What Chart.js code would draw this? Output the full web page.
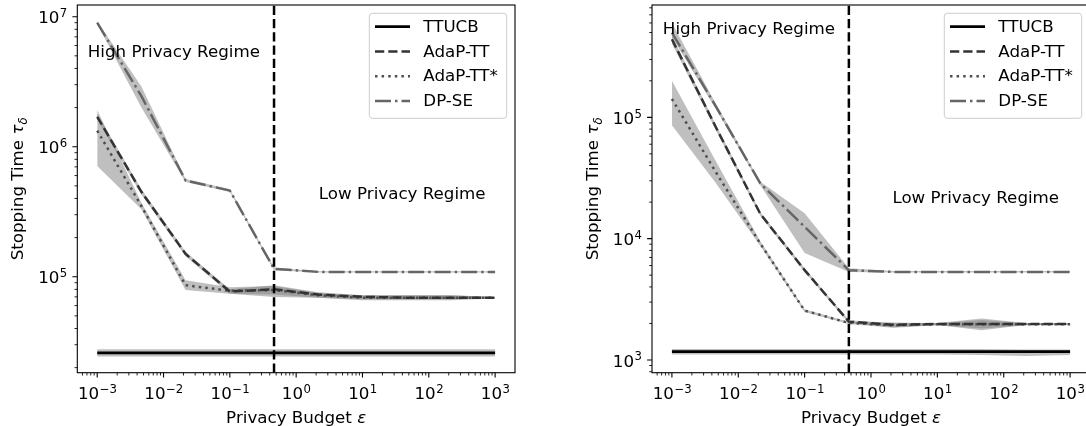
<!DOCTYPE html>
<html><head><meta charset="utf-8">
<script src="https://cdn.jsdelivr.net/npm/chart.js@4.4.1/dist/chart.umd.min.js"></script>
<style>
html,body{margin:0;padding:0;background:#fff;overflow:hidden;}
#wrap{position:relative;width:1086px;height:426px;overflow:hidden;background:#fff;}
canvas{position:absolute;top:0;}
#cA{left:0;}
#cB{left:543px;}
</style></head><body>
<div id="wrap"><canvas id="cA" width="543" height="426"></canvas><canvas id="cB" width="560" height="426"></canvas></div>
<script>
// ---------------- data ----------------
const epsilon = [0.001, 0.00464, 0.0215, 0.1, 0.464, 2.15, 10, 46.4, 215, 1000];
const regimeBoundary = 0.464;
const seriesNames = ['TTUCB', 'AdaP-TT', 'AdaP-TT*', 'DP-SE'];

const xMajorTicks = [1e-3, 1e-2, 1e-1, 1, 10, 100, 1000];
const xTickExponents = ['−3', '−2', '−1', '0', '1', '2', '3'];
const yMajorTicksA = [1e5, 1e6, 1e7];
const yTickExponentsA = ['5', '6', '7'];
const yMajorTicksB = [1e3, 1e4, 1e5];
const yTickExponentsB = ['3', '4', '5'];

// left panel
const ttucbA    = [2.60e4, 2.60e4, 2.60e4, 2.60e4, 2.60e4, 2.60e4, 2.60e4, 2.60e4, 2.60e4, 2.60e4];
const ttucbA_lo = [2.44e4, 2.44e4, 2.44e4, 2.44e4, 2.44e4, 2.44e4, 2.44e4, 2.44e4, 2.44e4, 2.44e4];
const ttucbA_hi = [2.77e4, 2.77e4, 2.77e4, 2.77e4, 2.77e4, 2.77e4, 2.77e4, 2.77e4, 2.77e4, 2.77e4];
const adapA     = [1.70e6, 4.50e5, 1.50e5, 7.70e4, 8.00e4, 7.30e4, 7.00e4, 6.90e4, 6.90e4, 6.90e4];
const adapA_lo  = [1.62e6, 4.30e5, 1.44e5, 7.40e4, 7.30e4, 6.90e4, 6.70e4, 6.70e4, 6.70e4, 6.80e4];
const adapA_hi  = [1.79e6, 4.70e5, 1.56e5, 8.00e4, 8.60e4, 7.60e4, 7.20e4, 7.20e4, 7.20e4, 7.00e4];
const adapStarA    = [1.33e6, 3.50e5, 8.60e4, 7.80e4, 7.90e4, 7.20e4, 6.90e4, 6.90e4, 6.90e4, 6.90e4];
const adapStarA_lo = [7.10e5, 3.30e5, 7.90e4, 7.40e4, 7.00e4, 6.90e4, 6.60e4, 6.60e4, 6.60e4, 6.80e4];
const adapStarA_hi = [1.92e6, 3.70e5, 9.40e4, 8.30e4, 8.50e4, 7.50e4, 7.20e4, 7.20e4, 7.20e4, 7.00e4];
const dpseA     = [9.00e6, 2.45e6, 5.50e5, 4.60e5, 1.15e5, 1.09e5, 1.09e5, 1.09e5, 1.09e5, 1.09e5];
const dpseA_lo  = [8.80e6, 2.00e6, 5.35e5, 4.50e5, 1.12e5, 1.08e5, 1.08e5, 1.08e5, 1.08e5, 1.08e5];
const dpseA_hi  = [9.20e6, 2.90e6, 5.65e5, 4.70e5, 1.18e5, 1.10e5, 1.10e5, 1.10e5, 1.10e5, 1.10e5];

// right panel
const ttucbB    = [1.17e3, 1.17e3, 1.17e3, 1.17e3, 1.17e3, 1.17e3, 1.17e3, 1.17e3, 1.17e3, 1.17e3];
const ttucbB_lo = [1.11e3, 1.11e3, 1.11e3, 1.11e3, 1.11e3, 1.11e3, 1.11e3, 1.10e3, 1.08e3, 1.10e3];
const ttucbB_hi = [1.23e3, 1.23e3, 1.23e3, 1.23e3, 1.23e3, 1.23e3, 1.23e3, 1.23e3, 1.22e3, 1.22e3];
const adapB     = [4.40e5, 8.20e4, 1.60e4, 5.50e3, 2.07e3, 1.95e3, 1.98e3, 1.98e3, 1.98e3, 1.98e3];
const adapB_lo  = [4.05e5, 7.80e4, 1.54e4, 5.30e3, 2.01e3, 1.86e3, 1.94e3, 1.76e3, 1.94e3, 1.95e3];
const adapB_hi  = [4.70e5, 8.60e4, 1.66e4, 5.70e3, 2.13e3, 2.02e3, 2.02e3, 2.20e3, 2.02e3, 2.01e3];
const adapStarB    = [1.42e5, 3.50e4, 9.10e3, 2.55e3, 2.02e3, 1.93e3, 1.97e3, 1.97e3, 1.97e3, 1.97e3];
const adapStarB_lo = [8.60e4, 2.85e4, 8.70e3, 2.48e3, 1.98e3, 1.84e3, 1.93e3, 1.82e3, 1.93e3, 1.95e3];
const adapStarB_hi = [2.00e5, 4.30e4, 9.50e3, 2.62e3, 2.06e3, 2.04e3, 2.01e3, 2.14e3, 2.01e3, 2.00e3];
const dpseB     = [5.00e5, 1.22e5, 2.85e4, 1.25e4, 5.50e3, 5.32e3, 5.32e3, 5.32e3, 5.32e3, 5.32e3];
const dpseB_lo  = [4.60e5, 1.16e5, 2.75e4, 7.60e3, 5.30e3, 5.25e3, 5.25e3, 5.25e3, 5.25e3, 5.25e3];
const dpseB_hi  = [6.00e5, 1.28e5, 2.95e4, 1.62e4, 5.70e3, 5.40e3, 5.40e3, 5.40e3, 5.40e3, 5.40e3];

// ---------------- styles ----------------
const FONT = '"DejaVu Sans", "Noto Sans", sans-serif';
const FS = 16.7;
const FS_SUP = 11.7;
const LW = 2.5;
const styles = {
  'TTUCB':    {color: '#000000', dash: [], width: 2.7},
  'AdaP-TT':  {color: '#333333', dash: [9.25, 4], width: 2.5},
  'AdaP-TT*': {color: '#4f4f4f', dash: [2.5, 4.1], width: 2.5},
  'DP-SE':    {color: '#666666', dash: [16, 4, 2.5, 4], width: 2.5}
};
const bandColor = 'rgba(128,128,128,0.5)';

Chart.defaults.font.family = FONT;
Chart.defaults.font.size = FS;
Chart.defaults.color = '#000';

function pts(vals) { return epsilon.map((x, i) => ({x: x, y: vals[i]})); }

function seriesDatasets(name, vals, lo, hi) {
  const st = styles[name];
  return [
    {label: name + ' lo', data: pts(lo), borderWidth: 0, pointRadius: 0, fill: false, order: 10, borderColor: 'rgba(0,0,0,0)'},
    {label: name + ' hi', data: pts(hi), borderWidth: 0, pointRadius: 0, fill: '-1', backgroundColor: bandColor, order: 10, borderColor: 'rgba(0,0,0,0)'},
    {label: name, data: pts(vals), borderColor: st.color, borderWidth: st.width, borderDash: st.dash, pointRadius: 0, fill: false, order: 2, tension: 0}
  ];
}

// draws "10" with a raised exponent; align: 'center' or 'right'
function drawPow(ctx, exp, x, baseline, align) {
  ctx.font = FS + 'px ' + FONT;
  const wb = ctx.measureText('10').width;
  ctx.font = FS_SUP + 'px ' + FONT;
  const we = ctx.measureText(exp).width;
  const total = wb + we;
  const x0 = align === 'center' ? x - total / 2 : x - total;
  ctx.textAlign = 'left';
  ctx.textBaseline = 'alphabetic';
  ctx.font = FS + 'px ' + FONT;
  ctx.fillText('10', x0, baseline);
  ctx.font = FS_SUP + 'px ' + FONT;
  ctx.fillText(exp, x0 + wb + 0.5, baseline - 6.2);
}

const decorPlugin = {
  id: 'decor',
  afterDraw(chart, args, o) {
    const ctx = chart.ctx, a = chart.chartArea, xs = chart.scales.x, ys = chart.scales.y;
    ctx.save();
    ctx.strokeStyle = '#000';
    // minor ticks
    const minorX = [], minorY = [];
    for (let k = -5; k <= 8; k++) for (let m = 2; m <= 9; m++) {
      const v = m * Math.pow(10, k);
      if (v > xs.min && v < xs.max) minorX.push(v);
      if (v > ys.min && v < ys.max) minorY.push(v);
    }
    ctx.lineWidth = 0.85;
    ctx.beginPath();
    minorX.forEach(v => { const p = xs.getPixelForValue(v); ctx.moveTo(p, a.bottom); ctx.lineTo(p, a.bottom + 2.8); });
    minorY.forEach(v => { const p = ys.getPixelForValue(v); ctx.moveTo(a.left, p); ctx.lineTo(a.left - 2.8, p); });
    ctx.stroke();
    // major ticks
    ctx.lineWidth = 1.1;
    ctx.beginPath();
    o.xMajor.forEach(v => { const p = xs.getPixelForValue(v); ctx.moveTo(p, a.bottom); ctx.lineTo(p, a.bottom + 4.9); });
    o.yMajor.forEach(v => { const p = ys.getPixelForValue(v); ctx.moveTo(a.left, p); ctx.lineTo(a.left - 4.9, p); });
    ctx.stroke();
    // spines
    ctx.strokeRect(a.left, a.top, a.right - a.left, a.bottom - a.top);

    // tick labels
    ctx.fillStyle = '#000';
    o.xMajor.forEach((v, i) => drawPow(ctx, o.xExp[i], xs.getPixelForValue(v), a.bottom + 26.3, 'center'));
    o.yMajor.forEach((v, i) => drawPow(ctx, o.yExp[i], a.left - 10.5, ys.getPixelForValue(v) + 6.6, 'right'));

    // annotations
    ctx.font = FS + 'px ' + FONT;
    ctx.textAlign = 'left';
    ctx.textBaseline = 'alphabetic';
    o.notes.forEach(n => ctx.fillText(n.text, xs.getPixelForValue(n.x), ys.getPixelForValue(n.y)));

    // x title: Privacy Budget ε
    const xt1 = 'Privacy Budget ', xt2 = 'ε';
    ctx.font = FS + 'px ' + FONT; const w1 = ctx.measureText(xt1).width;
    ctx.font = 'italic ' + FS + 'px ' + FONT; const w2 = ctx.measureText(xt2).width;
    const x0 = (a.left + a.right) / 2 - (w1 + w2) / 2;
    const yb = a.bottom + 49.8;
    ctx.font = FS + 'px ' + FONT; ctx.fillText(xt1, x0, yb);
    ctx.font = 'italic ' + FS + 'px ' + FONT; ctx.fillText(xt2, x0 + w1, yb);

    // y title: Stopping Time τ_δ
    ctx.save();
    ctx.translate(a.left - 54, (a.top + a.bottom) / 2);
    ctx.rotate(-Math.PI / 2);
    const yt1 = 'Stopping Time ', yt2 = 'τ', yt3 = 'δ';
    ctx.font = FS + 'px ' + FONT; const u1 = ctx.measureText(yt1).width;
    ctx.font = 'italic ' + FS + 'px ' + FONT; const u2 = ctx.measureText(yt2).width;
    ctx.font = 'italic ' + FS_SUP + 'px ' + FONT; const u3 = ctx.measureText(yt3).width;
    const s0 = -(u1 + u2 + u3) / 2;
    ctx.font = FS + 'px ' + FONT; ctx.fillText(yt1, s0, 0);
    ctx.font = 'italic ' + FS + 'px ' + FONT; ctx.fillText(yt2, s0 + u1, 0);
    ctx.font = 'italic ' + FS_SUP + 'px ' + FONT; ctx.fillText(yt3, s0 + u1 + u2, 3.6);
    ctx.restore();

    // legend
    const lw = 137.4, lh = 105;
    const lx = a.right - 8.3 - lw, ly = a.top + 8.3;
    const r = 3;
    ctx.beginPath();
    ctx.moveTo(lx + r, ly); ctx.lineTo(lx + lw - r, ly); ctx.arcTo(lx + lw, ly, lx + lw, ly + r, r);
    ctx.lineTo(lx + lw, ly + lh - r); ctx.arcTo(lx + lw, ly + lh, lx + lw - r, ly + lh, r);
    ctx.lineTo(lx + r, ly + lh); ctx.arcTo(lx, ly + lh, lx, ly + lh - r, r);
    ctx.lineTo(lx, ly + r); ctx.arcTo(lx, ly, lx + r, ly, r);
    ctx.closePath();
    ctx.fillStyle = 'rgba(255,255,255,0.8)'; ctx.fill();
    ctx.strokeStyle = '#cccccc'; ctx.lineWidth = 1; ctx.stroke();
    seriesNames.forEach((name, i) => {
      const st = styles[name];
      const cy = ly + 13.4 + i * 24.75;
      ctx.beginPath();
      ctx.setLineDash(st.dash);
      ctx.strokeStyle = st.color; ctx.lineWidth = st.width; ctx.lineCap = 'butt';
      ctx.moveTo(lx + 5.7, cy); ctx.lineTo(lx + 40.7, cy); ctx.stroke();
      ctx.setLineDash([]);
      ctx.fillStyle = '#000'; ctx.font = FS + 'px ' + FONT;
      ctx.textAlign = 'left';
      ctx.textBaseline = 'middle';
      ctx.fillText(name, lx + 54, cy + 0.8);
    });
    ctx.restore();
  }
};

function makeChart(id, cfg) {
  const datasets = [].concat(
    seriesDatasets('TTUCB', cfg.ttucb, cfg.ttucb_lo, cfg.ttucb_hi),
    seriesDatasets('AdaP-TT', cfg.adap, cfg.adap_lo, cfg.adap_hi),
    seriesDatasets('AdaP-TT*', cfg.adapStar, cfg.adapStar_lo, cfg.adapStar_hi),
    seriesDatasets('DP-SE', cfg.dpse, cfg.dpse_lo, cfg.dpse_hi),
    [{label: 'boundary', data: [{x: regimeBoundary, y: cfg.yMin}, {x: regimeBoundary, y: cfg.yMax}],
      borderColor: '#000', borderWidth: LW, borderDash: [9.25, 4], pointRadius: 0, fill: false, order: 1}]
  );
  return new Chart(document.getElementById(id), {
    type: 'line',
    data: {datasets: datasets},
    plugins: [decorPlugin],
    options: {
      responsive: false, animation: false,
      layout: {padding: {left: 0, right: cfg.padRight, top: 5, bottom: 0}},
      plugins: {legend: {display: false}, tooltip: {enabled: false},
        decor: {xMajor: xMajorTicks, xExp: xTickExponents, yMajor: cfg.yMajor, yExp: cfg.yExp, notes: cfg.notes}},
      scales: {
        x: {type: 'logarithmic', position: 'bottom', min: Math.pow(10, -3.3), max: Math.pow(10, 3.3),
          afterBuildTicks: s => { s.ticks = xMajorTicks.map(v => ({value: v})); },
          afterFit: s => { s.height = 53.3; s.paddingLeft = 0; s.paddingRight = 0; s.paddingTop = 0; s.paddingBottom = 0; },
          ticks: {display: false, autoSkip: false, maxRotation: 0, minRotation: 0},
          grid: {display: false, drawOnChartArea: false, drawTicks: false},
          border: {display: false}, title: {display: false}},
        y: {type: 'logarithmic', position: 'left', min: cfg.yMin, max: cfg.yMax,
          afterBuildTicks: s => { s.ticks = cfg.yMajor.map(v => ({value: v})); },
          afterFit: s => { s.width = cfg.yWidth; s.paddingLeft = 0; s.paddingRight = 0; s.paddingTop = 0; s.paddingBottom = 0; },
          ticks: {display: false, autoSkip: false},
          grid: {display: false, drawOnChartArea: false, drawTicks: false},
          border: {display: false}, title: {display: false}}
      }
    }
  });
}

makeChart('cA', {
  ttucb: ttucbA, ttucb_lo: ttucbA_lo, ttucb_hi: ttucbA_hi,
  adap: adapA, adap_lo: adapA_lo, adap_hi: adapA_hi,
  adapStar: adapStarA, adapStar_lo: adapStarA_lo, adapStar_hi: adapStarA_hi,
  dpse: dpseA, dpse_lo: dpseA_lo, dpse_hi: dpseA_hi,
  yMin: Math.pow(10, 4.262), yMax: Math.pow(10, 7.09),
  yMajor: yMajorTicksA, yExp: yTickExponentsA,
  yWidth: 77.3, padRight: 28,
  notes: [{text: 'High Privacy Regime', x: 7.2e-4, y: 4.9e6}, {text: 'Low Privacy Regime', x: 2.2, y: 3.95e5}]
});
makeChart('cB', {
  ttucb: ttucbB, ttucb_lo: ttucbB_lo, ttucb_hi: ttucbB_hi,
  adap: adapB, adap_lo: adapB_lo, adap_hi: adapB_hi,
  adapStar: adapStarB, adapStar_lo: adapStarB_lo, adapStar_hi: adapStarB_hi,
  dpse: dpseB, dpse_lo: dpseB_lo, dpse_hi: dpseB_hi,
  yMin: Math.pow(10, 2.895), yMax: Math.pow(10, 5.926),
  yMajor: yMajorTicksB, yExp: yTickExponentsB,
  yWidth: 109, padRight: 13,
  notes: [{text: 'High Privacy Regime', x: 7.3e-4, y: 4.9e5}, {text: 'Low Privacy Regime', x: 2.1, y: 1.97e4}]
});
</script>
</body></html>
